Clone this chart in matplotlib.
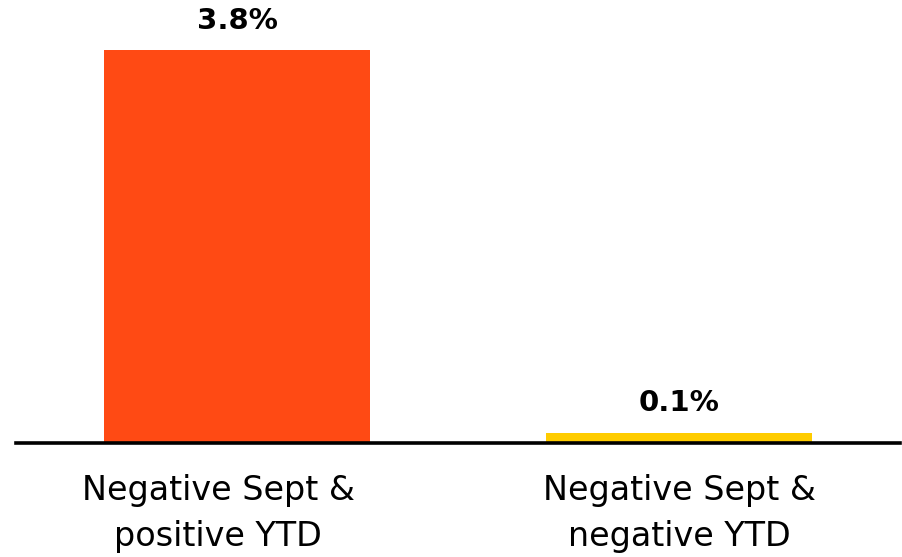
import matplotlib.pyplot as plt
import matplotlib.transforms as mtransforms

categories = ['Negative Sept &\npositive YTD', 'Negative Sept &\nnegative YTD']
values = [3.8, 0.1]
value_labels = ['3.8%', '0.1%']
colors = ['#FF4A14', '#FFCC00']

plt.rcParams['font.family'] = ['DejaVu Sans']

fig = plt.figure(figsize=(9.03, 5.57), dpi=100)
ax = fig.add_axes([16 / 903, 114 / 557, 884 / 903, 393 / 557])

x = range(len(values))
ax.bar(x, values, width=0.6, color=colors, zorder=2)

for xi, v, lab in zip(x, values, value_labels):
    ax.annotate(lab, (xi, v), xytext=(0, 11), textcoords='offset points',
                ha='center', va='bottom', fontsize=21, fontweight='bold',
                annotation_clip=False)

ax.set_xlim(-0.5, 1.5)
ax.set_ylim(0, 3.8)
ax.set_xticks(list(x))
ax.set_xticklabels(categories, fontsize=24, linespacing=1.5)
ax.tick_params(axis='x', length=0, pad=22)
ax.set_yticks([])

# first label sits a little left of its bar in the original
shift = mtransforms.ScaledTranslation(-0.19, 0, fig.dpi_scale_trans)
first = ax.get_xticklabels()[0]
first.set_transform(first.get_transform() + shift)

for side in ['top', 'right', 'left']:
    ax.spines[side].set_visible(False)
ax.spines['bottom'].set_linewidth(2.6)
ax.spines['bottom'].set_color('black')
ax.spines['bottom'].set_zorder(3)

fig.savefig('out.png', dpi=100)
